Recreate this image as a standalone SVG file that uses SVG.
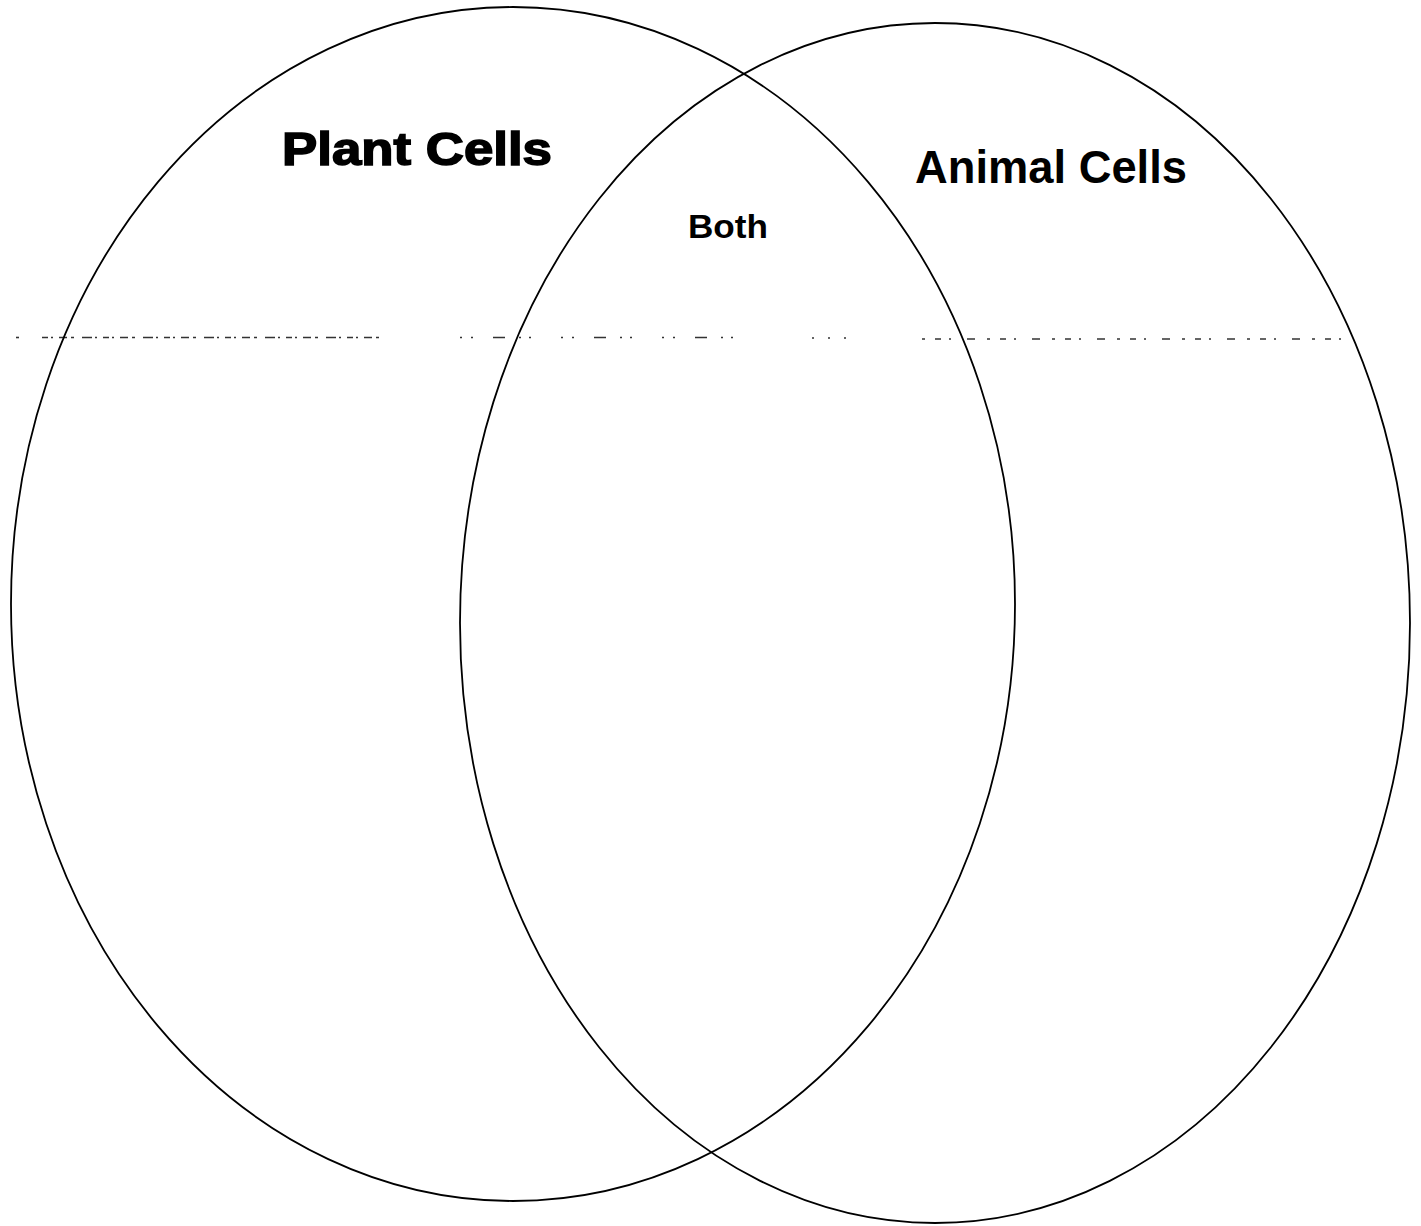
<svg xmlns="http://www.w3.org/2000/svg" width="1421" height="1226" viewBox="0 0 1421 1226">
<style>
.ell{fill:none;stroke:#000;stroke-width:1.8}
.lbl{font-family:"Liberation Sans",Arial,sans-serif;font-weight:bold;fill:#000}
.dash{stroke:#333;stroke-width:1.6;fill:none}
</style>
<rect width="1421" height="1226" fill="#fff"/>
<g id="guides">
<line class="dash" x1="16" y1="337.5" x2="19" y2="337.5"/>
<line class="dash" x1="42" y1="337.5" x2="382" y2="337.5" stroke-dasharray="6,3,2,6,8,4,3,8,10,3,2,6"/>
<line class="dash" x1="460" y1="337.5" x2="755" y2="337.5" stroke-dasharray="2,9,2,20,12,14,2,8,2,30"/>
<line class="dash" x1="812" y1="338" x2="860" y2="338" stroke-dasharray="2,14"/>
<line class="dash" x1="922" y1="339" x2="1345" y2="339" stroke-dasharray="3,10,6,8,2,16,8,12"/>
</g>
<g id="node-plant">
<ellipse class="ell" cx="513" cy="604" rx="502" ry="597"/>
<text class="lbl" x="282" y="165" font-size="46" stroke="#000" stroke-width="1.6" textLength="270" lengthAdjust="spacingAndGlyphs">Plant Cells</text>
</g>
<g id="node-animal">
<ellipse class="ell" cx="935" cy="623" rx="475" ry="600"/>
<text class="lbl" x="915" y="183" font-size="47" textLength="272" lengthAdjust="spacingAndGlyphs">Animal Cells</text>
</g>
<g id="node-both">
<text class="lbl" x="688" y="238" font-size="34" textLength="80" lengthAdjust="spacingAndGlyphs">Both</text>
</g>
<g id="connectors"></g>
</svg>
